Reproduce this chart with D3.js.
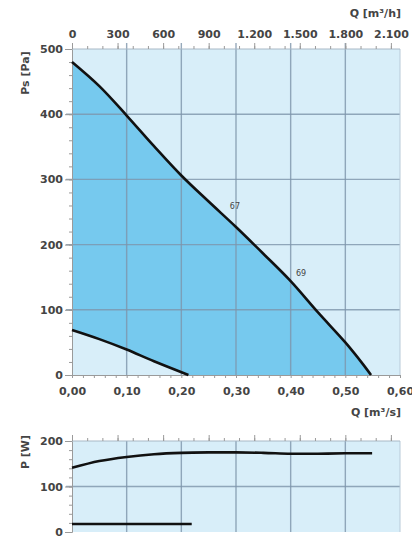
<!DOCTYPE html>
<html><head><meta charset="utf-8">
<script src="https://cdn.jsdelivr.net/npm/d3@7"></script>
<style>body{margin:0;background:#fff}svg{display:block}text{font-family:"DejaVu Sans",sans-serif;fill:#444}</style>
</head><body><svg id="c" width="412" height="547"></svg>
<script>
// ---- data ----
const curveHighQ = [0, 0.05, 0.10, 0.15, 0.20, 0.25, 0.30, 0.35, 0.40, 0.45, 0.50, 0.53, 0.547];
const curveHighPs = [480, 443, 398, 351, 306, 266, 227, 186, 144, 96, 50, 19, 0];
const curveLowQ = [0, 0.05, 0.10, 0.15, 0.213];
const curveLowPs = [69, 55, 39, 21, 0];
const powerHighQ = [0, 0.05, 0.10, 0.15, 0.20, 0.25, 0.30, 0.35, 0.40, 0.45, 0.50, 0.549];
const powerHighW = [141, 156, 165, 171, 174, 175, 175, 174, 172, 172, 173, 173];
const powerLowQ = [0, 0.219];
const powerLowW = [17.5, 17.5];
const curveLabels = ["67", "69"];
const curveLabelQ = [0.298, 0.419];
const curveLabelPs = [259, 156];
const psTicks = [0, 100, 200, 300, 400, 500];
const pTicks = [0, 100, 200];
const qsTicks = [0, 0.1, 0.2, 0.3, 0.4, 0.5, 0.6];
const qsTickLabels = ["0,00", "0,10", "0,20", "0,30", "0,40", "0,50", "0,60"];
const qhTicks = [0, 300, 600, 900, 1200, 1500, 1800, 2100];
const qhTickLabels = ["0", "300", "600", "900", "1.200", "1.500", "1.800", "2.100"];

// ---- styles ----
const LIGHT = "#d8eef9", DARK = "#76c9ee", GRID = "#7e95ab", AXIS = "#9a9a9a", TXT = "#444";
const FS = "11px";
const svg = d3.select("#c");
const x = d3.scaleLinear().domain([0, 0.6]).range([72, 400]);
const xh = d3.scaleLinear().domain([0, 2160]).range([72, 400]);
const y = d3.scaleLinear().domain([0, 500]).range([375, 49]);
const y2 = d3.scaleLinear().domain([0, 200]).range([532, 441]);
const styleTxt = sel => sel.style("font-size", FS).style("font-weight", "bold").attr("fill", TXT);
const CURVE = d3.curveCatmullRom.alpha(0.5);

// main background
svg.append("rect").attr("x", x(0)).attr("y", y(500)).attr("width", x(0.6) - x(0)).attr("height", y(0) - y(500)).attr("fill", LIGHT);
// filled region: area under high curve, then light area under low curve
const hiPts = curveHighQ.map((q, i) => [q, curveHighPs[i]]);
const loPts = curveLowQ.map((q, i) => [q, curveLowPs[i]]);
const area = d3.area().x(d => x(d[0])).y0(y(0)).y1(d => y(d[1])).curve(CURVE);
svg.append("path").attr("d", area(hiPts)).attr("fill", DARK);
svg.append("path").attr("d", area(loPts)).attr("fill", LIGHT);

// grid main
const gMain = svg.append("g");
[0.1, 0.2, 0.3, 0.4, 0.5].forEach(q => gMain.append("line").attr("x1", x(q)).attr("x2", x(q)).attr("y1", y(500) - 6).attr("y2", y(0)).attr("stroke", GRID).attr("stroke-width", 1.4).attr("opacity", 0.8));
[100, 200, 300, 400].forEach(v => gMain.append("line").attr("x1", x(0) - 6).attr("x2", x(0.6)).attr("y1", y(v)).attr("y2", y(v)).attr("stroke", GRID).attr("stroke-width", 1.4).attr("opacity", 0.8));
gMain.append("line").attr("x1", x(0.6)).attr("x2", x(0.6)).attr("y1", y(500)).attr("y2", y(0)).attr("stroke", "#b8cad8").attr("stroke-width", 1);

// axes main
svg.append("g").attr("transform", `translate(${x(0)},0)`).call(d3.axisLeft(y).tickValues(d3.range(0, 501, 20)).tickSize(3).tickFormat(""))
  .call(g => { g.select(".domain").attr("stroke", AXIS); g.selectAll(".tick line").attr("stroke", AXIS); });
svg.append("g").attr("transform", `translate(${x(0)},0)`).call(d3.axisLeft(y).tickValues(psTicks).tickSize(7).tickFormat(d => d))
  .call(g => { g.select(".domain").remove(); g.selectAll(".tick line").attr("stroke", AXIS); g.selectAll("text").attr("x", -9).call(styleTxt); });
svg.append("g").attr("transform", `translate(0,${y(0)})`).call(d3.axisBottom(x).tickValues(d3.range(0, 0.6001, 0.02)).tickSize(3).tickFormat(""))
  .call(g => { g.select(".domain").attr("stroke", AXIS); g.selectAll(".tick line").attr("stroke", AXIS); });
svg.append("g").attr("transform", `translate(0,${y(0)})`).call(d3.axisBottom(x).tickValues(qsTicks).tickSize(0).tickFormat((d, i) => qsTickLabels[i]))
  .call(g => { g.select(".domain").remove(); g.selectAll("text").attr("y", 12).call(styleTxt); });
// top m3/h axis
svg.append("g").attr("transform", `translate(0,${y(500)})`).call(d3.axisTop(xh).tickValues(d3.range(0, 2101, 100)).tickSize(3).tickFormat(""))
  .call(g => { g.select(".domain").attr("stroke", "#a8b8c6").attr("d", `M${x(0)},0H${x(0.6)}`); g.selectAll(".tick line").attr("stroke", AXIS); });
svg.append("g").attr("transform", `translate(0,${y(500)})`).call(d3.axisTop(xh).tickValues(qhTicks).tickSize(6).tickFormat((d, i) => qhTickLabels[i]))
  .call(g => { g.select(".domain").remove(); g.selectAll(".tick line").attr("stroke", AXIS); g.selectAll("text").attr("y", -11).call(styleTxt); });

// curves
const ln = d3.line().x(d => x(d[0])).y(d => y(d[1])).curve(CURVE);
svg.append("path").attr("d", ln(hiPts)).attr("fill", "none").attr("stroke", "#111").attr("stroke-width", 2.6);
svg.append("path").attr("d", ln(loPts)).attr("fill", "none").attr("stroke", "#111").attr("stroke-width", 2.6);
curveLabels.forEach((t, i) => svg.append("text").attr("x", x(curveLabelQ[i])).attr("y", y(curveLabelPs[i])).attr("dy", "0.35em").attr("text-anchor", "middle").style("font-size", "8px").attr("fill", "#555").text(t));

// titles
svg.append("text").attr("x", 401).attr("y", 17).attr("text-anchor", "end").call(styleTxt).text("Q [m³/h]");
svg.append("text").attr("x", 401).attr("y", 416).attr("text-anchor", "end").call(styleTxt).text("Q [m³/s]");
svg.append("text").attr("transform", "translate(29,73) rotate(-90)").attr("text-anchor", "middle").call(styleTxt).text("Ps [Pa]");
svg.append("text").attr("transform", "translate(29,452) rotate(-90)").attr("text-anchor", "middle").call(styleTxt).text("P [W]");

// ---- lower panel ----
svg.append("rect").attr("x", x(0)).attr("y", y2(200)).attr("width", x(0.6) - x(0)).attr("height", y2(0) - y2(200)).attr("fill", LIGHT);
const gLow = svg.append("g");
[0.1, 0.2, 0.3, 0.4, 0.5].forEach(q => gLow.append("line").attr("x1", x(q)).attr("x2", x(q)).attr("y1", y2(200)).attr("y2", y2(0)).attr("stroke", GRID).attr("stroke-width", 1.4).attr("opacity", 0.8));
gLow.append("line").attr("x1", x(0) - 6).attr("x2", x(0.6)).attr("y1", y2(100)).attr("y2", y2(100)).attr("stroke", GRID).attr("stroke-width", 1.4).attr("opacity", 0.8);
gLow.append("line").attr("x1", x(0.6)).attr("x2", x(0.6)).attr("y1", y2(200)).attr("y2", y2(0)).attr("stroke", "#b8cad8");
svg.append("g").attr("transform", `translate(${x(0)},0)`).call(d3.axisLeft(y2).tickValues(d3.range(0, 201, 20)).tickSize(3).tickFormat(""))
  .call(g => { g.select(".domain").attr("stroke", AXIS); g.selectAll(".tick line").attr("stroke", AXIS); });
svg.append("g").attr("transform", `translate(${x(0)},0)`).call(d3.axisLeft(y2).tickValues(pTicks).tickSize(7).tickFormat(d => d))
  .call(g => { g.select(".domain").remove(); g.selectAll(".tick line").attr("stroke", AXIS); g.selectAll("text").attr("x", -9).call(styleTxt); });
svg.append("g").attr("transform", `translate(0,${y2(200)})`).call(d3.axisTop(xh).tickValues(d3.range(0, 2101, 100)).tickSize(3).tickFormat(""))
  .call(g => { g.select(".domain").attr("stroke", "#a8b8c6").attr("d", `M${x(0)},0H${x(0.6)}`); g.selectAll(".tick line").attr("stroke", AXIS); });
svg.append("g").attr("transform", `translate(0,${y2(200)})`).call(d3.axisTop(xh).tickValues(qhTicks).tickSize(6).tickFormat(""))
  .call(g => { g.select(".domain").remove(); g.selectAll(".tick line").attr("stroke", AXIS); });
const ln2 = d3.line().x(d => x(d[0])).y(d => y2(d[1])).curve(CURVE);
svg.append("path").attr("d", ln2(powerHighQ.map((q, i) => [q, powerHighW[i]]))).attr("fill", "none").attr("stroke", "#111").attr("stroke-width", 2.6);
svg.append("path").attr("d", ln2(powerLowQ.map((q, i) => [q, powerLowW[i]]))).attr("fill", "none").attr("stroke", "#111").attr("stroke-width", 2.6);
</script></body></html>
